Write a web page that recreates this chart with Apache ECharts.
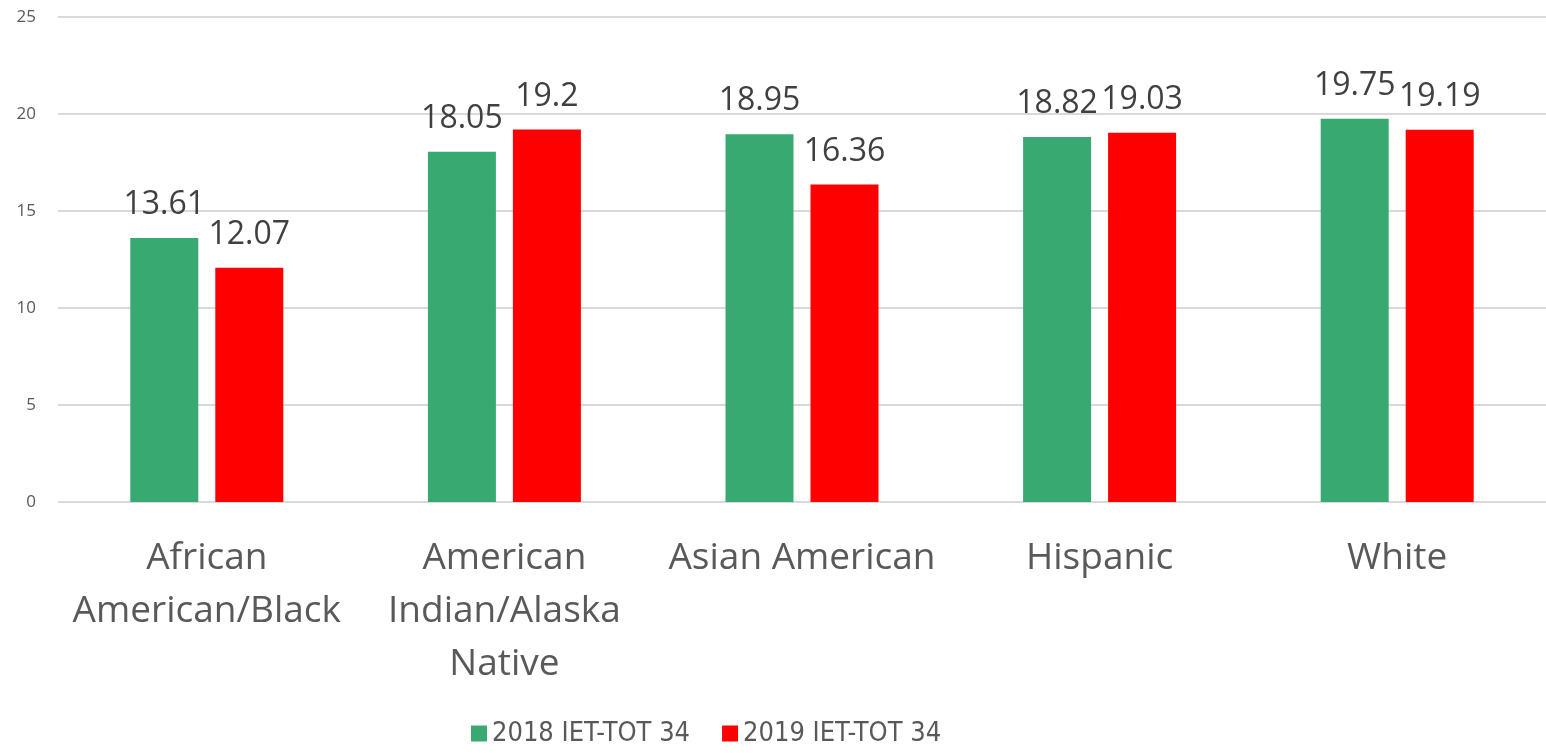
<!DOCTYPE html>
<html>
<head>
<meta charset="utf-8">
<script src="https://cdn.jsdelivr.net/npm/echarts@6/dist/echarts.min.js"></script>
<style>
  html, body { margin: 0; padding: 0; background: #fff; }
  #chart { width: 1546px; height: 753px; }
</style>
</head>
<body>
<div id="chart"></div>
<script>
// categories and values
const categories = ['African\nAmerican/Black', 'American\nIndian/Alaska\nNative', 'Asian American', 'Hispanic', 'White']
const values2018 = [13.61, 18.05, 18.95, 18.82, 19.75]
const values2019 = [12.07, 19.2, 16.36, 19.03, 19.19]
const seriesNames = ['2018 IET-TOT 34', '2019 IET-TOT 34']
const yTicks = { min: 0, max: 25, interval: 5 }

const font = '"Open Sans", "Noto Sans", sans-serif'

const labelStyle = {
  show: true,
  position: 'top',
  distance: 17,
  color: '#404040',
  fontSize: 32,
  fontFamily: font
}

const chart = echarts.init(document.getElementById('chart'))
chart.setOption({
  animation: false,
  textStyle: { fontFamily: font },
  grid: {
    left: 58,
    right: 0,
    top: 17,
    bottom: 251
  },
  legend: {
    top: 715,
    left: 466,
    itemWidth: 16,
    itemHeight: 16,
    itemGap: 32,
    icon: 'rect',
    textStyle: {
      color: '#595959',
      fontSize: 27,
      fontFamily: '"Liberation Sans Narrow", "DejaVu Sans Condensed", "Open Sans", sans-serif'
    },
    data: seriesNames
  },
  xAxis: {
    type: 'category',
    data: categories,
    axisLine: { show: false },
    axisTick: { show: false },
    axisLabel: {
      color: '#595959',
      fontSize: 37,
      lineHeight: 53,
      margin: 30,
      interval: 0
    }
  },
  yAxis: {
    type: 'value',
    min: yTicks.min,
    max: yTicks.max,
    interval: yTicks.interval,
    axisLine: { show: false },
    axisTick: { show: false },
    axisLabel: {
      color: '#595959',
      fontSize: 17,
      margin: 22
    },
    splitLine: { lineStyle: { color: '#d9d9d9', width: 2 } }
  },
  series: [
    {
      name: seriesNames[0],
      type: 'bar',
      data: values2018,
      barWidth: 68,
      barGap: '25%',
      itemStyle: { color: '#38a970' },
      label: labelStyle
    },
    {
      name: seriesNames[1],
      type: 'bar',
      data: values2019,
      barWidth: 68,
      itemStyle: { color: '#ff0000' },
      label: labelStyle
    }
  ]
})
</script>
</body>
</html>
